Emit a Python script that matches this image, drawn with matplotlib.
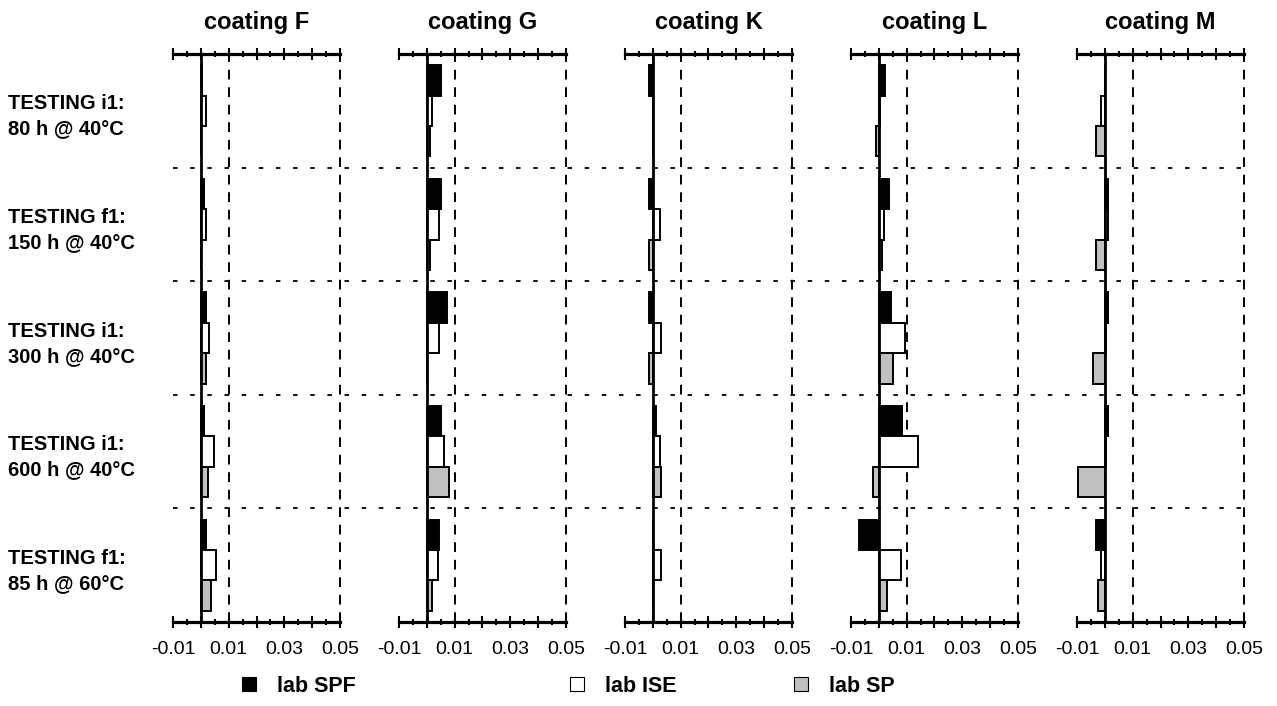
import numpy as np
import matplotlib
matplotlib.use('Agg')
import matplotlib.pyplot as plt
from matplotlib.ticker import MultipleLocator, FixedLocator, FixedFormatter
from matplotlib.lines import Line2D
from matplotlib.transforms import blended_transform_factory

plt.rcParams['font.family'] = ['Liberation Sans', 'DejaVu Sans']

# ── data ─────────────────────────────────────────────────────
groups = ['TESTING i1:\n80 h @ 40°C', 'TESTING f1:\n150 h @ 40°C',
          'TESTING i1:\n300 h @ 40°C', 'TESTING i1:\n600 h @ 40°C',
          'TESTING f1:\n85 h @ 60°C']
coatings = ['coating F', 'coating G', 'coating K', 'coating L', 'coating M']
series_names = ['lab SPF', 'lab ISE', 'lab SP']

spf_F = [0.0005, 0.0010, 0.0020, 0.0010, 0.0020]
ise_F = [0.0018, 0.0020, 0.0029, 0.0049, 0.0056]
sp_F  = [0.0002, 0.0002, 0.0017, 0.0026, 0.0037]

spf_G = [0.0050, 0.0052, 0.0073, 0.0052, 0.0043]
ise_G = [0.0018, 0.0043, 0.0043, 0.0060, 0.0040]
sp_G  = [0.0013, 0.0013, 0.0000, 0.0080, 0.0019]

spf_K = [-0.0012, -0.0012, -0.0012, 0.0010, 0.0000]
ise_K = [0.0000, 0.0024, 0.0030, 0.0026, 0.0030]
sp_K  = [0.0000, -0.0012, -0.0012, 0.0030, 0.0000]

spf_L = [0.0022, 0.0035, 0.0043, 0.0083, -0.0073]
ise_L = [0.0003, 0.0020, 0.0094, 0.0140, 0.0079]
sp_L  = [-0.0010, 0.0012, 0.0051, -0.0022, 0.0030]

spf_M = [0.0002, 0.0013, 0.0013, 0.0013, -0.0032]
ise_M = [-0.0013, 0.0010, 0.0003, 0.0003, -0.0013]
sp_M  = [-0.0030, -0.0030, -0.0043, -0.0098, -0.0023]

panels = [(spf_F, ise_F, sp_F), (spf_G, ise_G, sp_G), (spf_K, ise_K, sp_K),
          (spf_L, ise_L, sp_L), (spf_M, ise_M, sp_M)]

x_ticks_major = np.arange(-0.01, 0.0501, 0.01)
x_labels = ['-0.01', '', '0.01', '', '0.03', '', '0.05']
ref_lines = [0.01, 0.05]

COLORS = ['#000000', '#ffffff', '#c0c0c0']

# ── figure ───────────────────────────────────────────────────
W, H = 1277, 706
fig = plt.figure(figsize=(W / 100, H / 100), dpi=100)
fig.patch.set_facecolor('white')

ax_left = [173, 399, 625, 851, 1077]
ax_w = 167
ax_top, ax_bot = 54, 622
bar_h = 0.268
y = np.arange(len(groups)) + 0.5

axes = []
for k, (name, vals) in enumerate(zip(coatings, panels)):
    ax = fig.add_axes([ax_left[k] / W, (H - ax_bot) / H, ax_w / W, (ax_bot - ax_top) / H])
    axes.append(ax)
    for j, (v, c) in enumerate(zip(vals, COLORS)):
        ax.barh(y + (j - 1) * bar_h, v, height=bar_h, color=c,
                edgecolor='black', linewidth=1.4, zorder=3)
    ax.axvline(0, color='black', lw=2.0, zorder=4)
    for xv in ref_lines:
        ax.axvline(xv, color='black', lw=1.4, dashes=(5, 4), zorder=2,
                   clip_on=False)
    ax.set_xlim(-0.01, 0.05)
    ax.set_ylim(len(groups), 0)
    ax.set_yticks([])
    for sp in ['left', 'right']:
        ax.spines[sp].set_visible(False)
    for sp in ['top', 'bottom']:
        ax.spines[sp].set_linewidth(2.3)
        ax.spines[sp].set_zorder(5)
    ax.xaxis.set_major_locator(FixedLocator(x_ticks_major))
    ax.xaxis.set_major_formatter(FixedFormatter(x_labels))
    ax.xaxis.set_minor_locator(MultipleLocator(0.005))
    ax.tick_params(axis='x', which='major', direction='inout', length=8,
                   width=1.5, top=True, labelsize=14, pad=10)
    ax.tick_params(axis='x', which='minor', direction='inout', length=4,
                   width=1.5, top=True)
    ax.set_title(name, fontsize=17, fontweight='bold', pad=18)

# dotted separators across all panels
tr = blended_transform_factory(fig.transFigure, axes[0].transData)
for b in range(1, len(groups)):
    fig.add_artist(Line2D([173 / W, 1247 / W], [b, b], transform=tr,
                          color='black', lw=1.3, dashes=(2.5, 7)))

# row labels
for g, label in zip(y, groups):
    fig.text(8 / W, g + 0.05, label, transform=tr, fontsize=14.5,
             fontweight='bold', va='center', ha='left', linespacing=1.4)

# legend
leg_x = [238, 566, 790]
for name, c, lx in zip(series_names, COLORS, leg_x):
    h = Line2D([], [], marker='s', ls='none', markersize=10,
               markerfacecolor=c, markeredgecolor='black',
               markeredgewidth=0.8)
    fig.legend(handles=[h], labels=[name], loc='center left',
               bbox_to_anchor=(lx / W, (H - 686) / H), frameon=False,
               prop={'weight': 'bold', 'size': 15.5}, handletextpad=0.8,
               borderpad=0, borderaxespad=0, handlelength=1.0)

plt.savefig('out.png', dpi=100, facecolor=fig.get_facecolor())
plt.close()
